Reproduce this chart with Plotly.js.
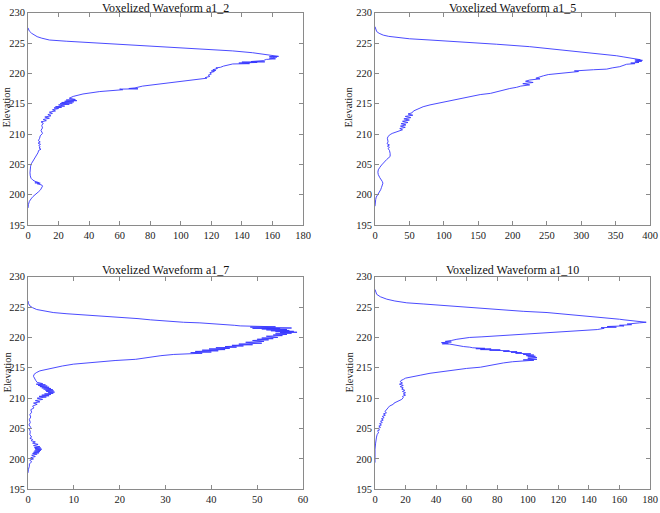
<!DOCTYPE html>
<html>
<head>
<meta charset="utf-8">
<script src="https://cdn.plot.ly/plotly-3.0.1.min.js"></script>
<style>html,body{margin:0;padding:0;background:#fff;}#chart{width:660px;height:513px;}</style>
</head>
<body>
<div id="chart"></div>
<script>
// Panel titles
const titles = ["Voxelized Waveform a1_2", "Voxelized Waveform a1_5", "Voxelized Waveform a1_7", "Voxelized Waveform a1_10"];
const yTitle = "Elevation";
const yTicks = [195, 200, 205, 210, 215, 220, 225, 230];
const xTicksA12 = [0, 20, 40, 60, 80, 100, 120, 140, 160, 180];
const xTicksA15 = [0, 50, 100, 150, 200, 250, 300, 350, 400];
const xTicksA17 = [0, 10, 20, 30, 40, 50, 60];
const xTicksA110 = [0, 20, 40, 60, 80, 100, 120, 140, 160, 180];

// a1_2
const elevA12 = [227.5,227.0,226.6,226.3,226.05,225.8,225.5,225.3,225.0,224.7,224.4,224.1,223.7,223.4,223.1,222.95,222.8,222.75,222.7,222.6,222.5,222.4,222.3,222.1,221.95,221.9,221.85,221.8,221.7,221.6,221.55,221.4,221.2,221.0,220.9,220.8,220.6,220.5,220.4,220.3,220.1,219.9,219.7,219.5,219.3,219.2,219.0,218.9,218.6,218.4,218.3,217.9,217.6,217.5,217.45,217.4,217.3,217.0,216.6,216.2,215.9,215.7,215.6,215.5,215.4,215.3,215.2,215.1,215.0,214.9,214.8,214.6,214.5,214.4,214.3,214.2,214.0,213.8,213.6,213.4,213.2,213.0,212.8,212.6,212.4,212.2,212.0,211.8,211.4,211.0,210.6,210.1,209.7,209.3,208.9,208.7,208.5,208.3,208.1,207.9,207.7,207.5,207.3,206.9,206.5,206.0,205.5,205.1,204.7,204.2,203.6,203.1,202.7,202.4,202.2,202.0,201.95,201.9,201.8,201.6,201.4,201.1,200.8,200.5,200.1,199.7,199.3,198.9,198.4,197.8];
const ampA12 = [0,0.8,2.4,4,6,9,14,25,47,69,90,112,134,147,156,160,164,158,163,160,158,162,156,154,146,155,140,150,138,145,134,131,128,126,123,124,121,123,120,122,119,120,118,119,116,117,110,108,97,93,86,75,70,66,72,60,62,47,36,29.6,27,31,25,32,24,30,22,29,21,27,20,24,18,22,17,20,16,18,14,16,13,15,11,14,10,12,8.5,10,9,9.5,8.5,9.5,8.0,7.6,6.8,8.0,6.6,8.2,7.0,8.0,7.2,8.5,7.0,6.5,5.5,4.3,3.0,2.2,1.7,1.3,1.3,1.5,2.0,3.2,4.6,7.0,4.5,8.0,6.0,9.0,9.5,9.0,8.2,7.0,5.0,3.3,2.0,0.9,0.3,0];

// a1_5
const elevA15 = [227.7,227.3,226.9,226.6,226.3,226.1,225.9,225.7,225.5,225.2,224.8,224.4,224.0,223.9,223.6,223.3,222.9,222.7,222.5,222.35,222.25,222.2,222.15,222.05,222.0,221.9,221.8,221.7,221.6,221.5,221.3,221.1,220.9,220.7,220.6,220.5,220.4,220.3,220.2,220.0,219.8,219.6,219.4,219.2,219.1,219.0,218.9,218.7,218.5,218.3,218.1,217.9,217.7,217.5,217.2,216.9,216.7,216.5,216.2,215.9,215.6,215.5,215.4,215.2,214.8,214.5,214.1,213.8,213.5,213.3,213.1,212.9,212.7,212.5,212.3,212.1,211.9,211.7,211.5,211.3,211.1,210.9,210.7,210.4,210.1,209.9,209.6,209.3,209.0,208.7,208.4,208.2,208.0,207.8,207.6,207.3,206.8,206.3,205.8,205.3,204.9,204.5,204.1,203.7,203.3,202.8,202.5,202.2,201.9,201.6,201.2,200.8,200.4,200.0,199.6,199.2,198.6,198.1];
const ampA15 = [0,1,2.4,6,12,20,31.5,50,80,128.5,177,225,258,274,300,322,351.5,362,371,380,386,378,389,380,388,378,384,372,378,366,360,356,345,337,318,298,290,296,285,264,252,245,240,234,240,230,225,219,230,215,225,212,206,196,186,177,168,153,140,128.5,116,110,104,94,80,70,60.6,56,54,48,55,44,52,42,50,40,48,38,45,37,44,36,40,31.5,25,22,19,18,18,19,17.5,21,18,21,19,21,22,22,17,12.5,9.7,7,4.8,4.2,4.8,7,9,10.5,11.5,11,9.5,8.2,5.8,3.4,1.8,1,0.3,0];

// a1_7
const elevA17 = [226.0,225.6,225.2,224.9,224.6,224.35,224.1,223.9,223.8,223.7,223.6,223.5,223.4,223.3,223.1,222.9,222.7,222.5,222.4,222.3,222.2,222.1,222.0,221.9,221.85,221.8,221.75,221.7,221.65,221.6,221.55,221.5,221.45,221.4,221.3,221.25,221.15,221.1,221.0,220.95,220.85,220.8,220.7,220.6,220.5,220.4,220.3,220.2,220.0,219.9,219.8,219.7,219.6,219.5,219.35,219.2,219.05,218.9,218.8,218.7,218.6,218.5,218.4,218.3,218.2,218.1,218.0,217.9,217.8,217.7,217.6,217.5,217.4,217.3,217.2,217.0,216.8,216.6,216.4,216.2,216.0,215.8,215.6,215.3,215.0,214.7,214.5,214.2,213.9,213.6,213.2,212.9,212.6,212.4,212.3,212.2,212.1,212.0,211.9,211.8,211.7,211.6,211.5,211.4,211.3,211.2,211.1,211.0,210.9,210.8,210.7,210.6,210.5,210.4,210.3,210.2,210.0,209.8,209.6,209.4,209.2,209.0,208.7,208.4,208.1,207.7,207.3,206.9,206.5,206.0,205.6,205.2,204.9,204.5,204.0,203.6,203.4,203.2,203.0,202.8,202.6,202.4,202.2,202.0,201.9,201.8,201.7,201.6,201.5,201.4,201.3,201.2,201.1,201.0,200.9,200.8,200.6,200.4,200.2,200.0,199.8,199.5,199.2,198.8,198.3,197.7];
const ampA17 = [0,0.1,0.4,1.0,1.9,3.5,5.5,8.5,10.5,12.1,14.5,17,19.4,21,24,26.7,30,33.9,37.5,40,41.2,43.5,45,46.3,52,47.5,54,48.5,56,50,57.5,49,55,51,56.5,52,57,53,58,54,58.7,55,57.5,54,56.5,53.5,55.5,52,54.5,51,53.5,50,52.5,49,51.5,47.5,51,46,49,44.5,47,43,45.5,41,44,39.5,43,38,41.5,36.5,40,35.5,38,33.5,31.8,29,27,25.5,23.5,19,15.7,12.5,9.9,7.5,5.5,3.8,2.6,1.8,1.3,1.2,1.4,1.7,2.0,3.2,1.8,3.8,2.2,4.2,2.6,4.6,3.0,5.0,3.4,5.4,3.8,5.6,4.0,5.8,4.4,5.5,3.6,5.0,3.0,4.6,2.4,4.0,2.0,3.2,1.6,2.6,1.2,2.0,1.0,1.3,0.6,0.8,0.4,0.6,0.3,0.5,0.2,0.6,0.3,0.5,0.4,0.8,0.4,1.0,0.7,1.6,1.0,2.2,1.2,2.6,1.4,2.8,1.5,3.0,1.6,2.8,1.4,2.6,1.2,2.4,1.0,2.0,0.8,1.6,0.6,1.2,0.4,0.8,0.3,0.3,0.1,0];

// a1_10
const elevA110 = [227.9,227.5,227.1,226.7,226.3,226.0,225.7,225.5,225.2,224.9,224.6,224.3,224.1,223.8,223.5,223.3,223.1,223.0,222.9,222.8,222.7,222.6,222.5,222.4,222.35,222.3,222.2,222.1,222.0,221.9,221.8,221.7,221.6,221.5,221.3,221.1,220.9,220.7,220.5,220.35,220.2,220.1,220.0,219.85,219.7,219.5,219.35,219.25,219.15,219.05,218.95,218.9,218.7,218.5,218.4,218.3,218.2,218.15,218.1,218.0,217.95,217.9,217.8,217.7,217.65,217.55,217.5,217.4,217.3,217.2,217.1,217.0,216.9,216.8,216.7,216.6,216.5,216.4,216.3,216.25,216.15,216.0,215.8,215.6,215.4,215.1,214.9,214.7,214.4,214.1,213.8,213.6,213.5,213.3,213.1,212.9,212.7,212.5,212.3,212.1,211.9,211.7,211.5,211.3,211.1,210.9,210.7,210.5,210.3,210.1,209.8,209.5,209.2,209.0,208.7,208.4,208.1,207.8,207.6,207.4,207.2,207.0,206.8,206.6,206.4,206.2,206.0,205.8,205.6,205.4,205.2,205.0,204.8,204.6,204.4,204.0,203.6,203.2,202.6,201.6,199.4];
const ampA110 = [0,0.5,1.1,3.5,7.7,13,20.8,32,47,63,80,97,112.6,127,141,150,156,160,163,167,172,175,177.5,173,168,171,165,168,160,163,152,158,148,150,145.5,133,123.6,113,101.7,90,80,70,62,57,53.6,50,46,50,43.5,48,44,49,53,58,62,64,72,66,76,69,82,75,88,84,93,89,96,92,102,97,104,99,105,100,106,104,100,106,97,104,94,90,84,80,74,69,60,53.6,44,36,30,26,22,20,18.6,17,16.5,18,16.0,18.5,16.5,18.5,17.5,19.5,18,20,18.5,20,18,18.5,17.5,15,12.5,12,9.5,8.5,7.5,6.5,7.5,5.5,6.8,4.8,6.0,4.2,5.4,3.6,4.8,3.0,4.2,2.5,3.6,2.0,3.0,1.6,2.4,1.4,1.0,0.7,0.4,0,0];

const W = 660, H = 513;
const serif = "Liberation Serif, Times New Roman, serif";
const lineStyle = {color: "rgb(55,55,255)", width: 0.9};

function px(x) { return x / W; }
function py(y) { return 1 - y / H; }

const traces = [
  {x: ampA12, y: elevA12, xaxis: "x", yaxis: "y"},
  {x: ampA15, y: elevA15, xaxis: "x2", yaxis: "y2"},
  {x: ampA17, y: elevA17, xaxis: "x3", yaxis: "y3"},
  {x: ampA110, y: elevA110, xaxis: "x4", yaxis: "y4"}
].map(t => Object.assign(t, {type: "scatter", mode: "lines", line: lineStyle, hoverinfo: "skip", showlegend: false}));

function ax(extra) {
  return Object.assign({
    showline: true, mirror: "ticks", linecolor: "#8a8a8a", linewidth: 1,
    ticks: "inside", ticklen: 4, tickcolor: "#8a8a8a", tickwidth: 1,
    showgrid: false, zeroline: false, fixedrange: true,
    tickfont: {family: serif, size: 10.5, color: "#222"}
  }, extra);
}

const leftDom = [px(28), px(303)];
const rightDom = [px(375), px(650)];
const topDom = [py(225), py(12.7)];
const botDom = [py(489.3), py(276.7)];

function titleAnn(text, x, yTop) {
  return {text: text, x: px(x), y: py(yTop), xref: "paper", yref: "paper", xanchor: "center", yanchor: "top",
          borderpad: 0, showarrow: false, font: {family: serif, size: 12, color: "#111"}};
}
function yAnn(x, y, anchor) {
  return {text: yTitle, x: px(x), y: py(y), xref: "paper", yref: "paper", xanchor: anchor, yanchor: "middle",
          borderpad: 0, textangle: -90, showarrow: false, font: {family: serif, size: 10.5, color: "#222"}};
}

const layout = {
  width: W, height: H,
  margin: {l: 0, r: 0, t: 0, b: 0},
  paper_bgcolor: "#fff", plot_bgcolor: "#fff",
  xaxis: ax({domain: leftDom, anchor: "y", range: [0, 180], tickvals: xTicksA12}),
  yaxis: ax({domain: topDom, anchor: "x", range: [195, 230], tickvals: yTicks}),
  xaxis2: ax({domain: rightDom, anchor: "y2", range: [0, 400], tickvals: xTicksA15}),
  yaxis2: ax({domain: topDom, anchor: "x2", range: [195, 230], tickvals: yTicks}),
  xaxis3: ax({domain: leftDom, anchor: "y3", range: [0, 60], tickvals: xTicksA17}),
  yaxis3: ax({domain: botDom, anchor: "x3", range: [195, 230], tickvals: yTicks}),
  xaxis4: ax({domain: rightDom, anchor: "y4", range: [0, 180], tickvals: xTicksA110}),
  yaxis4: ax({domain: botDom, anchor: "x4", range: [195, 230], tickvals: yTicks}),
  annotations: [
    titleAnn(titles[0], 165.5, 0),
    titleAnn(titles[1], 512.5, 0),
    titleAnn(titles[2], 165.5, 262),
    titleAnn(titles[3], 512.5, 262),
    yAnn(0, 107, "left"),
    yAnn(348.5, 107, "center"),
    yAnn(0, 372, "left"),
    yAnn(348.5, 372, "center")
  ]
};

Plotly.newPlot("chart", traces, layout, {displayModeBar: false, staticPlot: true});
</script>
</body>
</html>
